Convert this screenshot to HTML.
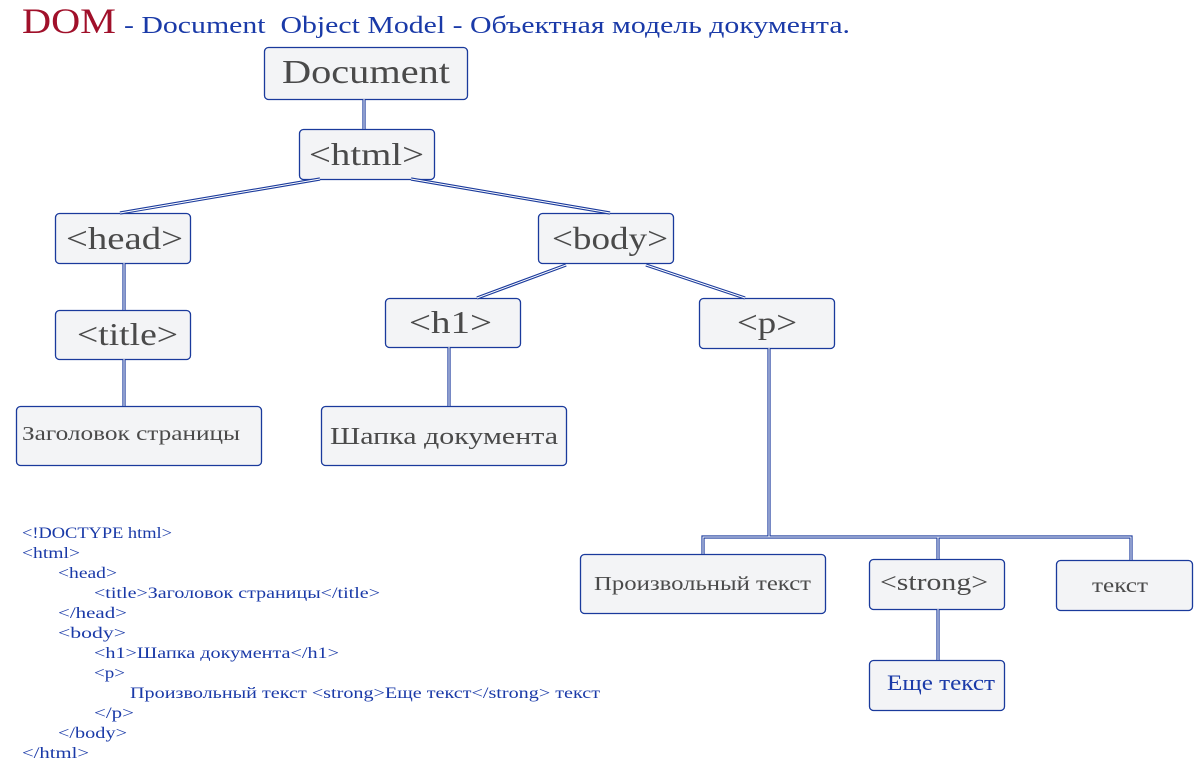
<!DOCTYPE html>
<html><head><meta charset="utf-8"><style>
html,body{margin:0;padding:0;background:#fff;width:1200px;height:768px;overflow:hidden}
svg text{font-family:"Liberation Serif","DejaVu Serif",serif}
</style></head><body>
<svg width="1200" height="768" xmlns="http://www.w3.org/2000/svg">
<g fill="#f3f4f6" stroke="#1a3a9c" stroke-width="1.3">
<rect x="264.5" y="47.5" width="203" height="52" rx="4"/>
<rect x="299.5" y="129.5" width="135" height="50" rx="4"/>
<rect x="55.5" y="213.5" width="135" height="50" rx="4"/>
<rect x="538.5" y="213.5" width="135" height="50" rx="4"/>
<rect x="55.5" y="310.5" width="135" height="49" rx="4"/>
<rect x="385.5" y="298.5" width="135" height="49" rx="4"/>
<rect x="699.5" y="298.5" width="135" height="50" rx="4"/>
<rect x="16.5" y="406.5" width="245" height="59" rx="4"/>
<rect x="321.5" y="406.5" width="245" height="59" rx="4"/>
<rect x="580.5" y="554.5" width="245" height="59" rx="4"/>
<rect x="869.5" y="559.5" width="135" height="50" rx="4"/>
<rect x="1056.5" y="560.5" width="136" height="50" rx="4"/>
<rect x="869.5" y="660.5" width="135" height="50" rx="4"/>
</g>
<g fill="none" stroke="#1a3a9c" stroke-width="3.2">
<path d="M364,99V129 M320,179L120,213 M411,179L610,213 M124,263V310 M566,265L477,298 M646,265L745,298 M124,359V406 M449,347V406 M769,348V537 M703,554V537H1131V560 M938,537V559 M938,609V660"/>
</g>
<g fill="none" stroke="#fff" stroke-width="1">
<path d="M364,99V129 M320,179L120,213 M411,179L610,213 M124,263V310 M566,265L477,298 M646,265L745,298 M124,359V406 M449,347V406 M769,348V537 M703,554V537H1131V560 M938,537V559 M938,609V660"/>
</g>
<g fill="#4a4a4a" lengthAdjust="spacingAndGlyphs">
<text x="282" y="83" font-size="34" textLength="168" lengthAdjust="spacingAndGlyphs">Document</text>
<text x="309" y="165" font-size="32" textLength="115" lengthAdjust="spacingAndGlyphs">&lt;html&gt;</text>
<text x="66" y="249" font-size="32" textLength="117" lengthAdjust="spacingAndGlyphs">&lt;head&gt;</text>
<text x="552" y="249" font-size="32" textLength="116" lengthAdjust="spacingAndGlyphs">&lt;body&gt;</text>
<text x="77" y="345" font-size="32" textLength="101" lengthAdjust="spacingAndGlyphs">&lt;title&gt;</text>
<text x="409" y="333" font-size="32" textLength="83" lengthAdjust="spacingAndGlyphs">&lt;h1&gt;</text>
<text x="737" y="333" font-size="32" textLength="60" lengthAdjust="spacingAndGlyphs">&lt;p&gt;</text>
<text x="22" y="440" font-size="20" textLength="218" lengthAdjust="spacingAndGlyphs">Заголовок страницы</text>
<text x="330" y="444" font-size="24" textLength="228" lengthAdjust="spacingAndGlyphs">Шапка документа</text>
<text x="594" y="590" font-size="20" textLength="217" lengthAdjust="spacingAndGlyphs">Произвольный текст</text>
<text x="880" y="590" font-size="24" textLength="108" lengthAdjust="spacingAndGlyphs">&lt;strong&gt;</text>
<text x="1092" y="592" font-size="20" textLength="56" lengthAdjust="spacingAndGlyphs">текст</text>
<text x="887" y="690" font-size="22" fill="#1a3aa8" textLength="108" lengthAdjust="spacingAndGlyphs">Еще текст</text>
</g>
<text x="22" y="33" font-size="36" fill="#a0102a" textLength="94" lengthAdjust="spacingAndGlyphs">DOM</text>
<text x="124" y="33" font-size="24" fill="#1a3aa8" xml:space="preserve" textLength="726" lengthAdjust="spacingAndGlyphs">- Document  Object Model - Объектная модель документа.</text>
<g fill="#1a3aa8" font-size="16">
<text x="22" y="538" textLength="150" lengthAdjust="spacingAndGlyphs">&lt;!DOCTYPE html&gt;</text>
<text x="22" y="558" textLength="58" lengthAdjust="spacingAndGlyphs">&lt;html&gt;</text>
<text x="58" y="578" textLength="59" lengthAdjust="spacingAndGlyphs">&lt;head&gt;</text>
<text x="94" y="598" textLength="286" lengthAdjust="spacingAndGlyphs">&lt;title&gt;Заголовок страницы&lt;/title&gt;</text>
<text x="58" y="618" textLength="69" lengthAdjust="spacingAndGlyphs">&lt;/head&gt;</text>
<text x="58" y="638" textLength="68" lengthAdjust="spacingAndGlyphs">&lt;body&gt;</text>
<text x="94" y="658" textLength="245" lengthAdjust="spacingAndGlyphs">&lt;h1&gt;Шапка документа&lt;/h1&gt;</text>
<text x="94" y="678" textLength="31" lengthAdjust="spacingAndGlyphs">&lt;p&gt;</text>
<text x="130" y="698" textLength="470" lengthAdjust="spacingAndGlyphs">Произвольный текст &lt;strong&gt;Еще текст&lt;/strong&gt; текст</text>
<text x="94" y="718" textLength="40" lengthAdjust="spacingAndGlyphs">&lt;/p&gt;</text>
<text x="58" y="738" textLength="69" lengthAdjust="spacingAndGlyphs">&lt;/body&gt;</text>
<text x="22" y="758" textLength="67" lengthAdjust="spacingAndGlyphs">&lt;/html&gt;</text>
</g>
</svg>
</body></html>
